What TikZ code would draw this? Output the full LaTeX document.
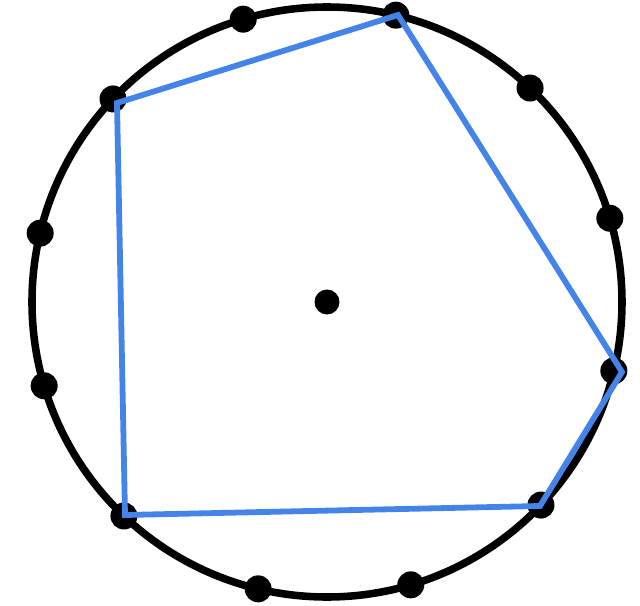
\documentclass[tikz,border=0pt]{standalone}
\usepackage{tikz}
\definecolor{polyblue}{RGB}{68,132,232}
\tikzset{
  dot/.style={draw=none, fill=black, shape=circle, minimum size=0.54cm, inner sep=0pt},
  rim/.style={line width=4.3pt},
  polyline/.style={polyblue, line width=3.3pt, line join=miter}
}
\begin{document}
\begin{tikzpicture}[x=0.02cm, y=0.02cm]
\useasboundingbox (-327,-304) rectangle (313,302);
\draw[rim] (0,0) circle (295);
\foreach \k in {0,...,11}{
  \node[dot] (p\k) at ({16.5+30*\k}:295) {};
}
\node[dot, minimum size=0.5cm] (ctr) at (0,0) {};
% corners of the blue polygon
\coordinate (q1) at (71,287);
\coordinate (q2) at (-210,199);
\coordinate (q3) at (-202,-213);
\coordinate (q4) at (213,-204);
\coordinate (q5) at (295,-70);
\draw[polyline] (q1) -- (q2) -- (q3) -- (q4) -- (q5) -- cycle;
\end{tikzpicture}
\end{document}
